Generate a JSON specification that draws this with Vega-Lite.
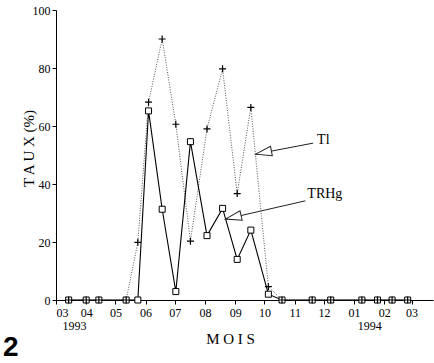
{
  "$schema": "https://vega.github.io/schema/vega-lite/v6.json",
  "width": 377,
  "height": 290,
  "autosize": "none",
  "padding": {"left": 56, "top": 10, "right": 1, "bottom": 63},
  "background": "white",
  "config": {"view": {"stroke": null}, "font": "Liberation Serif"},
  "title": {"text": "2", "orient": "bottom", "anchor": "start", "frame": "bounds", "font": "Liberation Sans", "fontSize": 28, "fontWeight": "bold", "color": "black", "offset": -12, "dx": -18},
  "datasets": {
    "series": [
      {"date": "1993-03-14", "serie": "TRHg", "val": 0},
      {"date": "1993-04-01", "serie": "TRHg", "val": 0},
      {"date": "1993-04-14", "serie": "TRHg", "val": 0},
      {"date": "1993-05-12", "serie": "TRHg", "val": 0},
      {"date": "1993-05-24", "serie": "TRHg", "val": 0},
      {"date": "1993-06-04", "serie": "TRHg", "val": 65.2},
      {"date": "1993-06-18", "serie": "TRHg", "val": 31.3},
      {"date": "1993-07-02", "serie": "TRHg", "val": 2.9},
      {"date": "1993-07-17", "serie": "TRHg", "val": 54.6},
      {"date": "1993-08-03", "serie": "TRHg", "val": 22.2},
      {"date": "1993-08-19", "serie": "TRHg", "val": 31.6},
      {"date": "1993-09-03", "serie": "TRHg", "val": 14},
      {"date": "1993-09-17", "serie": "TRHg", "val": 24.1},
      {"date": "1993-10-05", "serie": "TRHg", "val": 2},
      {"date": "1993-10-19", "serie": "TRHg", "val": 0},
      {"date": "1993-11-19", "serie": "TRHg", "val": 0},
      {"date": "1993-12-08", "serie": "TRHg", "val": 0},
      {"date": "1994-01-09", "serie": "TRHg", "val": 0},
      {"date": "1994-01-25", "serie": "TRHg", "val": 0},
      {"date": "1994-02-09", "serie": "TRHg", "val": 0},
      {"date": "1994-02-25", "serie": "TRHg", "val": 0},
      {"date": "1993-03-14", "serie": "Tl", "val": 0},
      {"date": "1993-04-01", "serie": "Tl", "val": 0},
      {"date": "1993-04-14", "serie": "Tl", "val": 0},
      {"date": "1993-05-12", "serie": "Tl", "val": 0},
      {"date": "1993-05-24", "serie": "Tl", "val": 19.9},
      {"date": "1993-06-04", "serie": "Tl", "val": 68.2},
      {"date": "1993-06-18", "serie": "Tl", "val": 90},
      {"date": "1993-07-02", "serie": "Tl", "val": 60.6},
      {"date": "1993-07-17", "serie": "Tl", "val": 20.3},
      {"date": "1993-08-03", "serie": "Tl", "val": 59},
      {"date": "1993-08-19", "serie": "Tl", "val": 79.7},
      {"date": "1993-09-03", "serie": "Tl", "val": 36.7},
      {"date": "1993-09-17", "serie": "Tl", "val": 66.4},
      {"date": "1993-10-05", "serie": "Tl", "val": 4.6},
      {"date": "1993-10-19", "serie": "Tl", "val": 0},
      {"date": "1993-11-19", "serie": "Tl", "val": 0},
      {"date": "1993-12-08", "serie": "Tl", "val": 0},
      {"date": "1994-01-09", "serie": "Tl", "val": 0},
      {"date": "1994-01-25", "serie": "Tl", "val": 0},
      {"date": "1994-02-09", "serie": "Tl", "val": 0},
      {"date": "1994-02-25", "serie": "Tl", "val": 0}
    ],
    "arrows": [
      {"label": "Tl", "date": "1993-09-22", "val": 50.3, "date2": "1993-11-20", "val2": 54.1},
      {"label": "TRHg", "date": "1993-08-22", "val": 27.9, "date2": "1993-11-12", "val2": 34.2}
    ],
    "labels": [
      {"label": "Tl", "kind": "note", "date": "1993-11-24", "val": 53.8},
      {"label": "TRHg", "kind": "note", "date": "1993-11-14", "val": 35.2},
      {"label": "1993", "kind": "year", "date": "1993-03-20", "val": -10.3},
      {"label": "1994", "kind": "year", "date": "1994-01-17", "val": -10.3}
    ]
  },
  "encoding": {
    "x": {
      "field": "date",
      "type": "temporal",
      "title": "M O I S",
      "scale": {"type": "utc", "domain": [{"year": 1993, "month": 3, "date": 1, "utc": true}, {"year": 1994, "month": 3, "date": 23, "utc": true}]},
      "axis": {
        "values": [
          {"year": 1993, "month": 3, "date": 1, "utc": true},
          {"year": 1993, "month": 4, "date": 1, "utc": true},
          {"year": 1993, "month": 5, "date": 1, "utc": true},
          {"year": 1993, "month": 6, "date": 1, "utc": true},
          {"year": 1993, "month": 7, "date": 1, "utc": true},
          {"year": 1993, "month": 8, "date": 1, "utc": true},
          {"year": 1993, "month": 9, "date": 1, "utc": true},
          {"year": 1993, "month": 10, "date": 1, "utc": true},
          {"year": 1993, "month": 11, "date": 1, "utc": true},
          {"year": 1993, "month": 12, "date": 1, "utc": true},
          {"year": 1994, "month": 1, "date": 1, "utc": true},
          {"year": 1994, "month": 2, "date": 1, "utc": true},
          {"year": 1994, "month": 3, "date": 1, "utc": true}
        ],
        "labelExpr": "utcFormat(datum.value, '%m')",
        "grid": false,
        "domainColor": "black",
        "tickColor": "black",
        "tickSize": 4,
        "labelFont": "Liberation Serif",
        "labelFontSize": 12,
        "labelColor": "black",
        "labelPadding": 3,
        "titleFont": "Liberation Serif",
        "titleFontSize": 15,
        "titleFontWeight": "normal",
        "titleColor": "black",
        "titleX": 174,
        "titleY": 43,
        "titleBaseline": "alphabetic"
      }
    },
    "y": {
      "field": "val",
      "type": "quantitative",
      "title": "T A U X (%)",
      "scale": {"domain": [0, 100]},
      "axis": {
        "values": [0, 20, 40, 60, 80, 100],
        "grid": false,
        "domainColor": "black",
        "tickColor": "black",
        "tickSize": 4,
        "labelFont": "Liberation Serif",
        "labelFontSize": 12,
        "labelColor": "black",
        "labelPadding": 2,
        "titleFont": "Liberation Serif",
        "titleFontSize": 15,
        "titleFontWeight": "normal",
        "titleColor": "black",
        "titleX": -28,
        "titleY": 138,
        "titleBaseline": "middle",
        "titleAlign": "center"
      }
    }
  },
  "layer": [
    {
      "data": {"name": "series"},
      "transform": [{"filter": "datum.serie == 'Tl'"}],
      "mark": {"type": "line", "color": "#555", "strokeWidth": 1, "strokeDash": [1, 1.5]}
    },
    {
      "data": {"name": "series"},
      "transform": [{"filter": "datum.serie == 'TRHg'"}],
      "mark": {"type": "line", "color": "black", "strokeWidth": 1.1}
    },
    {
      "data": {"name": "series"},
      "transform": [{"filter": "datum.serie == 'TRHg'"}],
      "mark": {"type": "point", "shape": "square", "filled": false, "fill": "white", "fillOpacity": 1, "stroke": "black", "strokeWidth": 1, "opacity": 1, "size": 36}
    },
    {
      "data": {"name": "series"},
      "transform": [{"filter": "datum.serie == 'Tl'"}],
      "mark": {"type": "point", "shape": "M-1,0L1,0M0,-1L0,1", "filled": false, "stroke": "black", "strokeWidth": 1.2, "opacity": 1, "size": 49}
    },
    {
      "data": {"name": "arrows"},
      "mark": {"type": "rule", "color": "#222", "strokeWidth": 1},
      "encoding": {"x2": {"field": "date2"}, "y2": {"field": "val2"}}
    },
    {
      "data": {"name": "arrows"},
      "transform": [{"filter": "datum.label == 'Tl'"}],
      "mark": {"type": "point", "shape": "M0,0L2,-0.6L2,0.6Z", "filled": true, "fill": "white", "stroke": "#222", "strokeWidth": 1, "opacity": 1, "size": 256, "angle": 349}
    },
    {
      "data": {"name": "arrows"},
      "transform": [{"filter": "datum.label == 'TRHg'"}],
      "mark": {"type": "point", "shape": "M0,0L2,-0.6L2,0.6Z", "filled": true, "fill": "white", "stroke": "#222", "strokeWidth": 1, "opacity": 1, "size": 256, "angle": 347}
    },
    {
      "data": {"name": "labels"},
      "transform": [{"filter": "datum.kind == 'note'"}],
      "mark": {"type": "text", "align": "left", "baseline": "alphabetic", "font": "Liberation Serif", "fontSize": 14, "color": "black"},
      "encoding": {"text": {"field": "label"}}
    },
    {
      "data": {"name": "labels"},
      "transform": [{"filter": "datum.kind == 'year'"}],
      "mark": {"type": "text", "align": "center", "baseline": "alphabetic", "font": "Liberation Serif", "fontSize": 12, "color": "black"},
      "encoding": {"text": {"field": "label"}}
    }
  ]
}
